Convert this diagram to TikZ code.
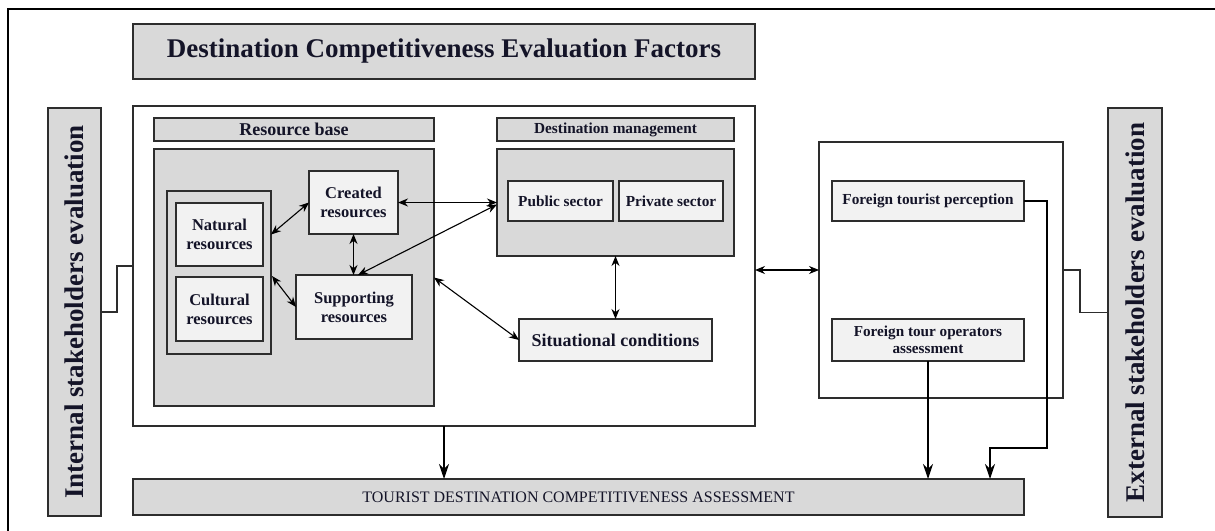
\documentclass[tikz,border=0pt]{standalone}
\usepackage{fontspec}
\setmainfont{Liberation Serif}
\usetikzlibrary{arrows.meta,calc}
\definecolor{gfill}{RGB}{217,217,217}
\definecolor{lfill}{RGB}{242,242,242}
\definecolor{bord}{RGB}{45,45,45}
\definecolor{txt}{RGB}{20,20,40}
\begin{document}
\begin{tikzpicture}[x=1pt,y=-1pt,
  box/.style={draw=bord, line width=1.2pt, inner sep=0pt, outer sep=0pt, text=txt, align=center},
  gbox/.style={box, fill=gfill},
  lbox/.style={box, fill=lfill},
  wbox/.style={box, fill=white},
  fbig/.style={font=\bfseries\fontsize{27}{31}\selectfont},
  fmid/.style={font=\bfseries\fontsize{16.5}{19}\selectfont},
  fsm/.style={font=\bfseries\fontsize{15.3}{17}\selectfont},
  dbl/.style={line width=1.1pt, draw=black, {Stealth[length=10pt,width=8pt]}-{Stealth[length=10pt,width=8pt]}},
  one/.style={line width=1.1pt, draw=black, -{Stealth[length=15pt,width=10pt]}},
  link/.style={line width=1.1pt, draw=bord}]
\useasboundingbox (0,0) rectangle (1215,530);
% outer frame (only top and left edges fall inside the picture)
\draw[line width=1.8pt, black] (8,540) -- (8,9) -- (1225,9);

\node[gbox, fbig, minimum width=622pt, minimum height=55pt] (title) at (444,51.5) {Destination Competitiveness Evaluation Factors};
\node[gbox, fbig, rotate=90, minimum width=408pt, minimum height=53pt] (intl) at (74.5,312) {Internal stakeholders evaluation};
\node[gbox, fbig, rotate=90, minimum width=409pt, minimum height=54pt] (ext) at (1135,312.5) {External stakeholders evaluation};

\node[wbox, minimum width=622pt, minimum height=320pt] (main) at (444,266) {};
\node[wbox, minimum width=244pt, minimum height=256pt] (right) at (941,270) {};

\node[gbox, font=\bfseries\fontsize{18}{21}\selectfont, minimum width=280pt, minimum height=23pt] (rbl) at (294,129.5) {Resource base};
\node[gbox, minimum width=280pt, minimum height=257pt] (rbg) at (294,277.5) {};
\node[gbox, minimum width=104pt, minimum height=163pt] (grp) at (219,272.5) {};
\node[lbox, fmid, minimum width=87pt, minimum height=63pt] (nat) at (219.5,234.5) {Natural\\resources};
\node[lbox, fmid, minimum width=87pt, minimum height=64pt] (cul) at (219.5,309) {Cultural\\resources};
\node[lbox, fmid, minimum width=89pt, minimum height=63pt] (cre) at (353.5,202.5) {Created\\resources};
\node[lbox, fmid, minimum width=116pt, minimum height=64pt] (sup) at (354,307) {Supporting\\resources};

\node[gbox, fsm, minimum width=237pt, minimum height=23pt] (dml) at (615.5,129.5) {Destination management};
\node[gbox, minimum width=237pt, minimum height=107pt] (dmg) at (615.5,202.5) {};
\node[lbox, fsm, minimum width=105pt, minimum height=40pt] (pub) at (560.5,201) {Public sector};
\node[lbox, fsm, minimum width=104pt, minimum height=40pt] (pri) at (671,201) {Private sector};
\node[lbox, font=\bfseries\fontsize{18}{21}\selectfont, minimum width=193pt, minimum height=42pt] (sit) at (615.5,340) {Situational conditions};

\node[lbox, fsm, minimum width=192pt, minimum height=40pt] (ftp) at (928,201) {Foreign tourist perception};
\node[lbox, font=\bfseries\fontsize{15.2}{17}\selectfont, minimum width=192pt, minimum height=42pt] (fto) at (928,340) {Foreign tour operators\\assessment};

\node[gbox, font=\fontsize{16}{18}\selectfont, minimum width=891pt, minimum height=36pt] (tdc) at (578.5,497) {TOURIST DESTINATION COMPETITIVENESS ASSESSMENT};

% stakeholder links
\draw[link] (intl.south) -- ++(16,0) |- (main.west);
\draw[link] (right.east) -- ++(17,0) |- (ext.north);

% inner arrows
\draw[dbl] (grp.east |- nat.east) -- (cre.west);
\draw[dbl] ($(grp.east |- cul.north)+(1,-1)$) -- (sup.west);
\draw[dbl] (cre.south) -- (cre.south |- sup.north);
\draw[dbl] (cre.east) -- (dmg.west);
\draw[dbl] ([xshift=4pt]sup.north) -- ([yshift=-2pt]dmg.west);
\draw[dbl] (rbg.east) -- (sit.west);
\draw[dbl] (dmg.south) -- (sit.north);
\draw[dbl] (main.east |- right.west) -- (right.west);

% arrows to assessment
\draw[one] (main.south) -- (main.south |- tdc.north);
\draw[one] (fto.south) -- (fto.south |- tdc.north);
\coordinate (k) at (990,448);
\draw[one] (ftp.east) -- ++(23,0) |- (k) -- (k |- tdc.north);
\end{tikzpicture}
\end{document}
